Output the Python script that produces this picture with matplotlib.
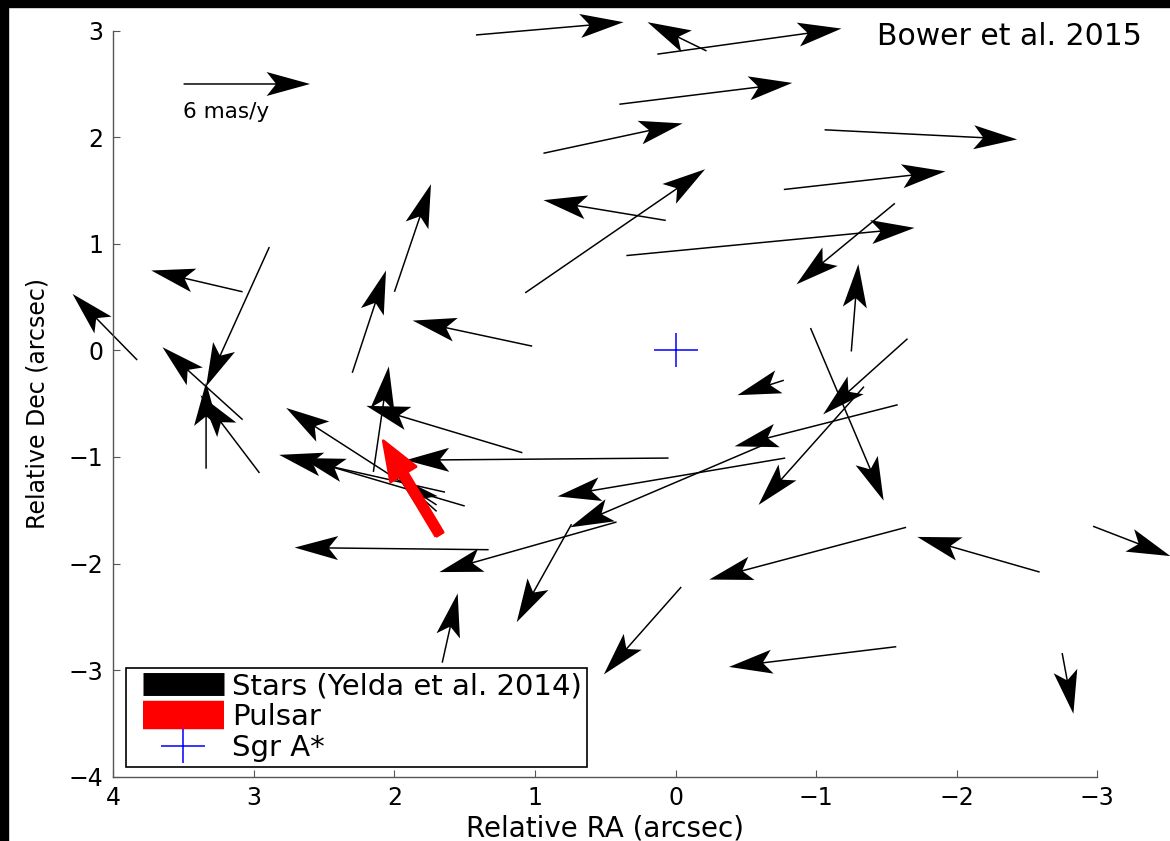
import matplotlib
matplotlib.use('Agg')
import matplotlib.pyplot as plt
from matplotlib.path import Path
from matplotlib.lines import Line2D
from matplotlib.patches import Rectangle
from matplotlib.legend_handler import HandlerLine2D

plt.rcParams['font.family'] = ['DejaVu Sans']

# ---- data: star proper motions (tail position and displacement, arcsec) ----
star_x = [1.42, -0.22, 0.13, 0.40, 0.94, -1.06, -0.77, 0.07, 1.07, 0.35, -1.56, -1.25,
          3.08, 2.89, 2.00, 2.30, 1.02, 3.83, 3.08, 3.34, 2.96, 2.15, 1.09, 1.70,
          1.64, 1.50, 1.70, 0.05, 1.33, -0.77, -0.96, -1.65, -1.58, -1.34, -0.78, -0.62,
          0.42, 0.74, -1.64, -2.59, -2.97, -2.75, -1.57, -0.04, 1.66]
star_y = [2.96, 2.81, 2.78, 2.31, 1.85, 2.07, 1.51, 1.22, 0.54, 0.89, 1.38, -0.01,
          0.55, 0.97, 0.55, -0.21, 0.04, -0.09, -0.65, -1.11, -1.15, -1.14, -0.96, -1.45,
          -1.33, -1.46, -1.51, -1.01, -1.87, -0.28, 0.21, 0.11, -0.51, -0.34, -1.01, -0.89,
          -1.61, -1.63, -1.66, -2.08, -1.65, -2.84, -2.78, -2.22, -2.93]
star_u = [-1.05, 0.42, -1.31, -1.23, -0.99, -1.37, -1.15, 0.87, -1.28, -2.05, 0.70, -0.05,
          0.65, 0.45, -0.26, -0.24, 0.85, 0.46, 0.57, 0.00, 0.42, -0.11, 1.11, 1.07,
          1.18, 1.16, 0.28, 1.87, 1.38, 0.33, -0.52, 0.60, 1.16, 0.75, 1.62, 1.37,
          1.26, 0.39, 1.40, 0.87, -0.55, -0.08, 1.19, 0.55, -0.11]
star_v = [0.12, 0.27, 0.24, 0.20, 0.28, -0.09, 0.17, 0.19, 1.16, 0.26, -0.76, 0.82,
          0.20, -1.31, 1.01, 0.96, 0.24, 0.62, 0.68, 0.81, 0.73, 0.99, 0.44, 0.91,
          0.35, 0.45, 0.33, -0.02, 0.02, -0.14, -1.62, -0.71, -0.39, -1.11, -0.36, -0.77,
          -0.47, -0.92, -0.49, 0.33, -0.28, -0.57, -0.19, -0.82, 0.65]

# pulsar
psr_x = [1.68]
psr_y = [-1.72]
psr_u = [0.40]
psr_v = [0.88]

# Sgr A*
sgr_x = [0.0]
sgr_y = [0.0]

# reference arrow (6 mas/y)
ref_x = [3.5]
ref_y = [2.5]
ref_u = [-0.9]
ref_v = [0.0]

xticks = [4, 3, 2, 1, 0, -1, -2, -3]
yticks = [-4, -3, -2, -1, 0, 1, 2, 3]

W, H = 1170, 841
fig = plt.figure(figsize=(W / 100, H / 100), dpi=100, facecolor='white')
ax = fig.add_axes([113.3 / W, (H - 776.7) / H, (1097.3 - 113.3) / W, (776.7 - 30.7) / H])

qkw = dict(angles='xy', scale_units='xy', scale=1, units='dots', width=1.5,
           headwidth=16, headlength=29, headaxislength=23, color='black', zorder=2)
q1 = ax.quiver(star_x, star_y, star_u, star_v, **qkw)
q1.set_clip_on(False)
q2 = ax.quiver(ref_x, ref_y, ref_u, ref_v, **qkw)
q2.set_clip_on(False)

q3 = ax.quiver(psr_x, psr_y, psr_u, psr_v, angles='xy', scale_units='xy', scale=1,
               units='dots', width=8.5, headwidth=3.5, headlength=4.6, headaxislength=4.6,
               color='#ff0000', edgecolor='#ff0000', linewidth=2, joinstyle='round', zorder=3)
q3.set_clip_on(False)

plus = Path([(-1, 0), (1, 0), (0, -0.75), (0, 0.75)],
            [Path.MOVETO, Path.LINETO, Path.MOVETO, Path.LINETO])
ax.plot(sgr_x, sgr_y, ls='none', marker=plus, ms=31.7, mew=1.1, color='#0000ff', zorder=4)

ax.text(3.506, 2.178, '6 mas/y', fontsize=15.5, ha='left', va='baseline')
ax.text(-1.43, 2.866, 'Bower et al. 2015', fontsize=21.5, ha='left', va='baseline', clip_on=False)

ax.set_xlim(4, -3)
ax.set_ylim(-4, 3)
ax.set_xticks(xticks)
ax.set_yticks(yticks)
for s in ['top', 'right']:
    ax.spines[s].set_visible(False)
for s in ['left', 'bottom']:
    ax.spines[s].set_color('#555555')
    ax.spines[s].set_linewidth(1.0)
ax.tick_params(direction='in', length=5, width=0.8, color='#555555', labelsize=17,
               pad=7)
ax.set_xlabel('Relative RA (arcsec)', fontsize=20, labelpad=3)
ax.set_ylabel('Relative Dec (arcsec)', fontsize=17, labelpad=14)

leg_fs = 21
fs_px = leg_fs * 100 / 72
handles = [Line2D([], [], color='black', lw=16.5, solid_capstyle='butt'),
           Line2D([], [], color='#ff0000', lw=20.5, solid_capstyle='butt'),
           Line2D([], [], ls='none', marker=plus, ms=31.7, mew=1.1, color='#0000ff')]
labels = ['Stars (Yelda et al. 2014)', 'Pulsar', 'Sgr A*']
leg = ax.legend(handles, labels, loc='lower left', bbox_to_anchor=(126 / W, (H - 766.7) / H),
                bbox_transform=fig.transFigure, borderaxespad=0, fontsize=leg_fs,
                handlelength=(81 + 12) / fs_px, handletextpad=9 / fs_px,
                borderpad=4.5 / fs_px, labelspacing=0.1,
                handler_map={Line2D: HandlerLine2D(xpad=12 / fs_px)},
                frameon=True, fancybox=False, edgecolor='black', framealpha=1)
leg.get_frame().set_linewidth(1.2)
leg.set_zorder(6)

fig.add_artist(Rectangle((0, 0), 8 / W, 1, transform=fig.transFigure, color='black', zorder=10))
fig.add_artist(Rectangle((0, 1 - 7 / H), 1, 7 / H, transform=fig.transFigure, color='black', zorder=10))

fig.savefig('out.png', dpi=100, facecolor='white')
